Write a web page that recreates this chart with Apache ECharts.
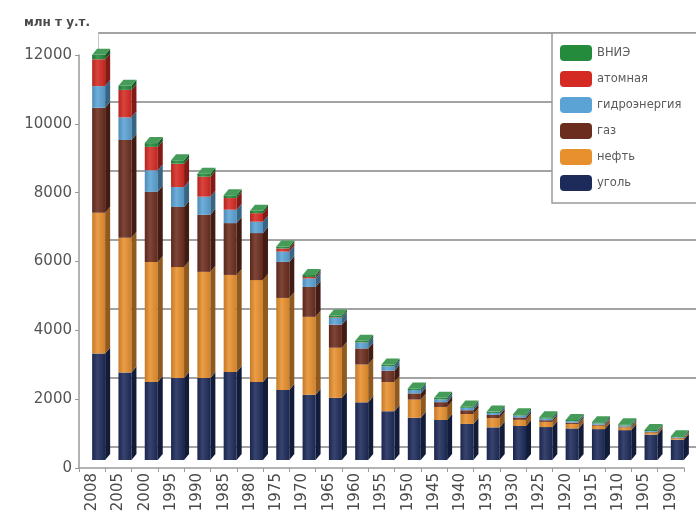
<!DOCTYPE html>
<html><head><meta charset="utf-8">
<script src="https://cdn.jsdelivr.net/npm/echarts@6/dist/echarts.min.js"></script>
<style>html,body{margin:0;padding:0;background:#fff}#c{width:696px;height:518px}</style>
</head><body><div id="c"></div>
<script>
const years = ['2008','2005','2000','1995','1990','1985','1980','1975','1970','1965','1960','1955','1950','1945','1940','1935','1930','1925','1920','1915','1910','1905','1900'];
const coal = [3100, 2550, 2270, 2390, 2390, 2560, 2270, 2040, 1900, 1810, 1680, 1420, 1230, 1165, 1050, 950, 990, 960, 920, 900, 870, 740, 590];
const oil = [4100, 3920, 3500, 3230, 3090, 2830, 2970, 2680, 2270, 1460, 1100, 850, 530, 380, 290, 270, 180, 150, 130, 100, 80, 60, 40];
const gas = [3060, 2850, 2040, 1750, 1660, 1510, 1370, 1050, 870, 670, 470, 330, 180, 140, 110, 90, 70, 50, 40, 30, 25, 20, 15];
const hydro = [630, 660, 630, 580, 530, 390, 330, 300, 250, 200, 170, 130, 100, 80, 70, 60, 55, 45, 40, 35, 30, 25, 20];
const nuclear = [780, 800, 680, 680, 580, 340, 250, 90, 40, 15, 5, 0, 0, 0, 0, 0, 0, 0, 0, 0, 0, 0, 0];
const renewables = [130, 120, 110, 100, 90, 80, 70, 60, 60, 55, 50, 50, 45, 45, 40, 40, 40, 40, 35, 35, 35, 30, 30];
const seriesNames = ['уголь', 'нефть', 'газ', 'гидроэнергия', 'атомная', 'ВНИЭ'];
const legendOrder = ['ВНИЭ', 'атомная', 'гидроэнергия', 'газ', 'нефть', 'уголь'];
const yAxisTitle = 'млн т у.т.';

const seriesValues = [coal, oil, gas, hydro, nuclear, renewables];
const colors = ['#1d2b5a', '#e8902e', '#6b2d1e', '#5ba3d5', '#d52a23', '#248a3c'];

function shade(hex, f) {
  const n = parseInt(hex.slice(1), 16);
  let r = (n >> 16) & 255, g = (n >> 8) & 255, b = n & 255;
  if (f < 1) { r *= f; g *= f; b *= f; }
  else { const t = f - 1; r += (255 - r) * t; g += (255 - g) * t; b += (255 - b) * t; }
  return 'rgb(' + Math.round(r) + ',' + Math.round(g) + ',' + Math.round(b) + ')';
}

// stacked ranges
const cum = years.map(() => 0);
const stacked = seriesValues.map(vals => vals.map((v, i) => {
  const lo = cum[i]; cum[i] += v; return [i, lo, cum[i]];
}));

const DX = 5, DY = 6;
function makeRender(si) {
  const base = colors[si];
  const isTop = si === seriesValues.length - 1;
  return function (params, api) {
    const ci = api.value(0), lo = api.value(1), hi = api.value(2);
    const p0 = api.coord([ci, lo]);
    const p1 = api.coord([ci, hi]);
    const c = p0[0];
    const x0 = c - 8, x1 = c + 5;
    const yb = p0[1], yt = p1[1];
    const children = [];
    if (hi > lo) {
      children.push({
        type: 'rect',
        shape: { x: x0, y: yt, width: x1 - x0, height: yb - yt },
        style: {
          fill: new echarts.graphic.LinearGradient(0, 0, 1, 0, [
            { offset: 0, color: shade(base, 0.85) },
            { offset: 0.4, color: shade(base, 1.12) },
            { offset: 1, color: shade(base, 0.9) }
          ])
        }
      });
      children.push({
        type: 'polygon',
        shape: { points: [[x1, yb], [x1 + DX, yb - DY], [x1 + DX, yt - DY], [x1, yt]] },
        style: { fill: shade(base, 0.62) }
      });
    }
    if (isTop) {
      children.push({
        type: 'polygon',
        shape: { points: [[x0, yt], [x0 + DX, yt - DY], [x1 + DX, yt - DY], [x1, yt]] },
        style: { fill: shade(base, 1.15) }
      });
    }
    return { type: 'group', children: children };
  };
}

const FONT = 'DejaVu Sans';
const chart = echarts.init(document.getElementById('c'), null, { renderer: 'canvas' });
chart.setOption({
  backgroundColor: '#ffffff',
  animation: false,
  title: {
    text: yAxisTitle, left: 24, top: 17, padding: 0,
    textStyle: { fontFamily: FONT, fontSize: 12, fontWeight: 'bold', color: '#4a4a4a' }
  },
  legend: {
    data: legendOrder,
    orient: 'vertical',
    left: 552, top: 33,
    padding: [12, 20, 12, 8],
    itemWidth: 32, itemHeight: 16, itemGap: 10,
    icon: 'roundRect',
    backgroundColor: '#ffffff',
    borderColor: '#9a9a9a', borderWidth: 1.5,
    textStyle: { fontFamily: FONT, fontSize: 11.5, color: '#5a5a5a' }
  },
  grid: [
    { left: 87, right: 4, top: 48, bottom: 58 },
    { left: 79, right: 12, top: 55, bottom: 50 },
    { left: 98, right: 0, top: 33, bottom: 71 }
  ],
  xAxis: [
    { type: 'category', gridIndex: 0, data: years, show: false },
    {
      type: 'category', gridIndex: 1, data: years,
      axisLine: { lineStyle: { color: '#9a9a9a', width: 1.5 } },
      axisTick: { show: true, length: 4, lineStyle: { color: '#9a9a9a' } },
      axisLabel: { rotate: 90, fontFamily: FONT, fontSize: 15, color: '#4a4a4a', margin: 5, interval: 0 }
    },
    { type: 'category', gridIndex: 2, data: years, show: false }
  ],
  yAxis: [
    { type: 'value', gridIndex: 0, min: 0, max: 12000, show: false },
    {
      type: 'value', gridIndex: 1, min: 0, max: 12000, interval: 2000,
      axisLine: { show: true, lineStyle: { color: '#9a9a9a', width: 1.5 } },
      axisTick: { show: true, length: 4, lineStyle: { color: '#9a9a9a' } },
      splitLine: { show: false },
      axisLabel: { fontFamily: FONT, fontSize: 15, color: '#555', margin: 7, formatter: v => String(v) }
    },
    {
      type: 'value', gridIndex: 2, min: 0, max: 12000, interval: 2000,
      axisLine: { show: true, lineStyle: { color: '#c4c4c4', width: 1 } },
      axisTick: { show: false },
      axisLabel: { show: false },
      splitLine: { show: true, lineStyle: { color: '#a3a3a3', width: 2 } }
    }
  ],
  series: seriesNames.map((name, si) => ({
    name: name,
    type: 'custom',
    xAxisIndex: 0, yAxisIndex: 0,
    itemStyle: { color: colors[si] },
    renderItem: makeRender(si),
    encode: { x: 0, y: [1, 2] },
    data: stacked[si]
  }))
});
</script></body></html>
